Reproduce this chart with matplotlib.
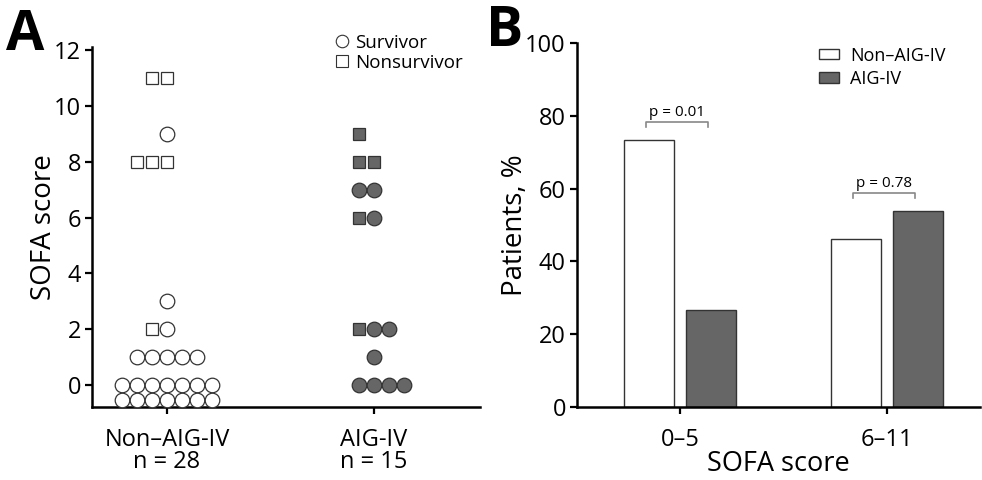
import matplotlib
matplotlib.use("Agg")
import matplotlib.pyplot as plt
from matplotlib.lines import Line2D

plt.rcParams['font.family'] = ['Open Sans', 'DejaVu Sans']

# panel A data: SOFA score of each patient, split by outcome
groups = ['Non\u2013AIG-IV', 'AIG-IV']
group_n = [28, 15]
non_surv = [0, 0, 0, 0, 0, 0, 0, 0, 0, 0, 0, 0, 0, 0, 1, 1, 1, 1, 1, 2, 3, 9]
non_nonsurv = [2, 8, 8, 8, 11, 11]
aig_surv = [0, 0, 0, 0, 1, 2, 2, 6, 7, 7]
aig_nonsurv = [2, 6, 8, 8, 9]

# panel B data
sofa_cats = ['0\u20135', '6\u201311']
pct_non = [73.3, 46.2]
pct_aig = [26.7, 53.8]
pvals = ['p = 0.01', 'p = 0.78']

# layout of the dot plot: leftmost slot used in each score row
first_slot = [{0: -3, 1: -2, 2: -1, 3: 0, 8: -2, 9: 0, 11: -1},
              {0: -1, 1: 0, 2: -1, 6: -1, 7: -1, 8: -1, 9: -1}]
slot_w = 0.0725
row_drop = 0.54
per_row = 7

fig = plt.figure(figsize=(9.82, 4.8), dpi=100)
axA = fig.add_axes([92/982, 73/480, 388/982, 359.6/480])
axB = fig.add_axes([577/982, 73/480, 403/982, 364/480])

edge = '#333333'
dark = '#666666'

for gi, (surv, nonsurv) in enumerate([(non_surv, non_nonsurv), (aig_surv, aig_nonsurv)]):
    face = 'white' if gi == 0 else dark
    for score in sorted(set(surv + nonsurv)):
        pts = ['s'] * nonsurv.count(score) + ['o'] * surv.count(score)
        start = first_slot[gi][score]
        for k, m in enumerate(pts):
            col = k % per_row
            row = k // per_row
            x = gi + (start + col) * slot_w
            y = score - row * row_drop
            ms = 10.5 if m == 'o' else 9.2
            axA.plot(x, y, marker=m, ms=ms, mfc=face, mec=edge, mew=0.9,
                     linestyle='none', clip_on=False, zorder=3)

axA.set_xlim(-0.362, 1.512)
axA.set_ylim(-0.79, 12.1)
axA.set_yticks(range(0, 13, 2))
axA.set_xticks([0, 1])
axA.set_xticklabels([f'{g}\nn = {n}' for g, n in zip(groups, group_n)],
                    linespacing=0.9)
axA.set_ylabel('SOFA score', fontsize=20, labelpad=-3)

hA = [Line2D([], [], marker='o', ms=9, mfc='white', mec=edge, mew=0.8, ls='none'),
      Line2D([], [], marker='s', ms=8, mfc='white', mec=edge, mew=0.8, ls='none')]
axA.legend(hA, ['Survivor', 'Nonsurvivor'], loc='upper right',
           bbox_to_anchor=(1.0, 1.085), frameon=False, fontsize=13.5,
           handletextpad=0.1, labelspacing=0.1, handlelength=1.2)

# panel B bars
xs = range(len(sofa_cats))
off, bw = 0.15, 0.242
axB.bar([x - off for x in xs], pct_non, bw, color='white', edgecolor=edge,
        linewidth=1.0, label='Non\u2013AIG-IV')
axB.bar([x + off for x in xs], pct_aig, bw, color=dark, edgecolor=edge,
        linewidth=1.0, label='AIG-IV')
for x, a, b, p in zip(xs, pct_non, pct_aig, pvals):
    top = max(a, b) + 5
    axB.plot([x - off - 0.015, x - off - 0.015, x + off - 0.015, x + off - 0.015],
             [top - 1.5, top, top, top - 1.5], color='#888888', lw=1.2)
    axB.text(x - 0.015, top + 0.6, p, ha='center', va='bottom', fontsize=11)

axB.set_xlim(-0.498, 1.449)
axB.set_ylim(0, 100)
axB.set_yticks(range(0, 101, 20))
axB.set_xticks(list(xs))
axB.set_xticklabels(sofa_cats)
axB.set_xlabel('SOFA score', fontsize=19.5, labelpad=-1)
axB.set_ylabel('Patients, %', fontsize=20, labelpad=-3)
axB.legend(loc='upper right', bbox_to_anchor=(0.955, 1.035), frameon=False,
           fontsize=13, handlelength=1.1, handleheight=0.5,
           handletextpad=0.6, labelspacing=0.3)

for ax in (axA, axB):
    for s in ('top', 'right'):
        ax.spines[s].set_visible(False)
    for s in ('left', 'bottom'):
        ax.spines[s].set_linewidth(1.8)
    ax.tick_params(width=1.6, length=5, labelsize=17, pad=3, color='black')
    ax.tick_params(axis='x', pad=10)

fig.text(6/982, 1 - 50/480, 'A', fontsize=40, fontweight='bold', ha='left', va='baseline')
fig.text(486/982, 1 - 46/480, 'B', fontsize=40, fontweight='bold', ha='left', va='baseline')

fig.savefig('out.png', dpi=100)
